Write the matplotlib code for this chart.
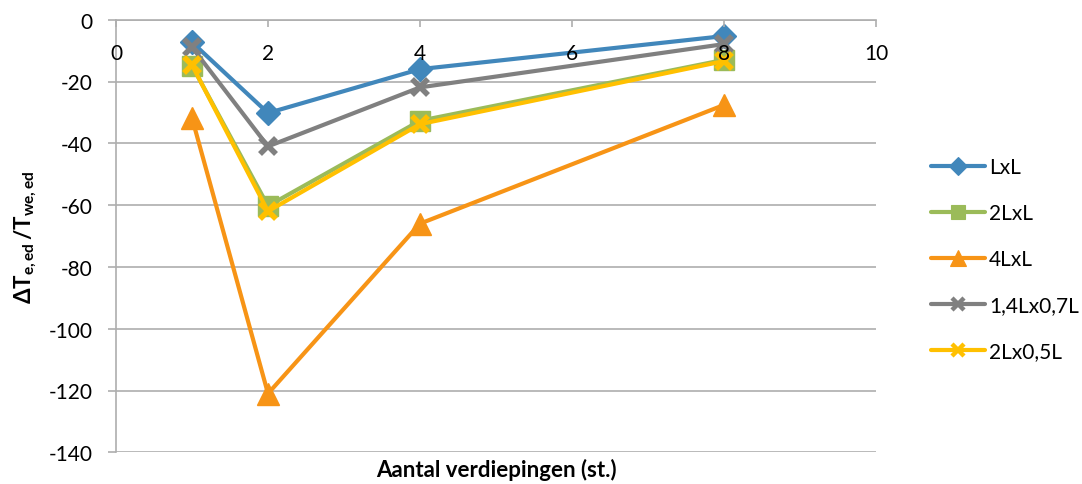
import matplotlib
matplotlib.use("Agg")
import matplotlib.pyplot as plt
from matplotlib.lines import Line2D

plt.rcParams['font.family'] = ['Lato', 'DejaVu Sans']
plt.rcParams['mathtext.fontset'] = 'custom'
plt.rcParams['mathtext.rm'] = 'Lato'
plt.rcParams['mathtext.bf'] = 'Lato:bold'
plt.rcParams['mathtext.it'] = 'Lato:italic'

floors = [1, 2, 4, 8]
series_names = ["LxL", "2LxL", "4LxL", "1,4Lx0,7L", "2Lx0,5L"]
lxl = [-7.3, -30.2, -16.0, -5.3]
l2xl = [-14.9, -60.3, -32.7, -13.0]
l4xl = [-31.8, -121.0, -66.0, -27.6]
l14x07 = [-8.9, -41.0, -21.9, -7.9]
l2x05 = [-14.7, -62.0, -33.8, -13.4]
values = [lxl, l2xl, l4xl, l14x07, l2x05]

xticks = [0, 2, 4, 6, 8, 10]
yticks = [0, -20, -40, -60, -80, -100, -120, -140]

colors = ['#4187BB', '#9BBB59', '#F79416', '#808080', '#FFC000']
markers = ['D', 's', '^', 'x', 'x']
msizes = [12.5, 14, 16, 12, 12]
mews = [1, 1, 1, 4, 4]

fig = plt.figure(figsize=(10.82, 4.85), dpi=100)
ax = fig.add_axes([116/1082, 1 - 453.3/485, (876-116)/1082, (453.3-20.7)/485])

grid_c = '#AEAEAE'
for yv in yticks:
    ax.axhline(yv, color=grid_c, lw=1.2, zorder=0)

handles = []
for name, vals, c, m, ms, mew in zip(series_names, values, colors, markers, msizes, mews):
    ax.plot(floors, vals, color=c, lw=3, marker=m, markersize=ms,
            markeredgewidth=mew, markeredgecolor=c, markerfacecolor=c,
            solid_joinstyle='round', solid_capstyle='round', clip_on=False,
            zorder=2)
    handles.append(Line2D([], [], color=c, lw=3, marker=m,
                          markersize=ms * 0.75, markeredgewidth=mew * 0.8,
                          markeredgecolor=c, markerfacecolor=c,
                          solid_capstyle='round'))

ax.set_xlim(0, 10)
ax.set_ylim(-140, 0)
ax.set_xticks(xticks)
ax.set_yticks(yticks)
ax.set_yticklabels([str(v) for v in yticks])
ax.set_axisbelow(False)

for s in ['top', 'right']:
    ax.spines[s].set_visible(False)
ax.spines['bottom'].set_position(('data', 0))
ax.spines['bottom'].set_color(grid_c)
ax.spines['left'].set_color(grid_c)
ax.spines['bottom'].set_linewidth(1.2)
ax.spines['left'].set_linewidth(1.2)

ax.tick_params(axis='x', direction='out', length=5, width=1.2, color=grid_c,
               pad=12, labelsize=15)
ax.tick_params(axis='y', direction='out', length=5.8, width=1.2, color=grid_c,
               pad=11, labelsize=15)

fig.text((116 + 876) / 2 / 1082, 1 - 470 / 485, "Aantal verdiepingen (st.)",
         ha='center', va='center', fontsize=16, fontweight='bold')
fig.text(26 / 1082, 1 - 237 / 485, r'$\mathbf{\Delta T_{e,ed}\,/T_{we,ed}}$',
         ha='center', va='center', rotation=90, fontsize=16)

fig.legend(handles, series_names, loc='center left',
           bbox_to_anchor=(912 / 1082, 1 - 260 / 485), frameon=False,
           fontsize=15, handlelength=2.6, labelspacing=1.25, handletextpad=0.2)

fig.savefig("out.png", dpi=100)
